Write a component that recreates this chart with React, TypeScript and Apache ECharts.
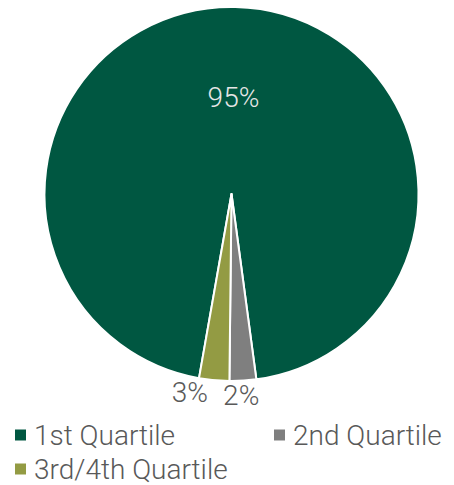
import React, { useEffect, useRef } from "react";
import * as echarts from "echarts";

const categories = ["1st Quartile", "2nd Quartile", "3rd/4th Quartile"];
const values = [95.1, 2.3, 2.6];
const colors = ["#005741", "#7F7F7F", "#939B43"];

export default function App() {
  const ref = useRef<HTMLDivElement>(null);
  useEffect(() => {
    const chart = echarts.init(ref.current!, null, { renderer: "svg" });
    const font = "Roboto, sans-serif";
    const legendBase = {
      itemWidth: 13,
      itemHeight: 13,
      itemGap: 8,
      padding: 0,
      icon: "rect",
      textStyle: {
        fontFamily: font,
        fontSize: 28,
        fontWeight: 300,
        color: "#595959",
        padding: [0, 0, 0, 2],
      },
    };
    chart.setOption({
      animation: false,
      color: colors,
      legend: [
        { ...legendBase, data: [categories[0]], left: 13, top: 421 },
        { ...legendBase, data: [categories[1]], left: 272, top: 421 },
        { ...legendBase, data: [categories[2]], left: 13, top: 455 },
      ],
      series: [
        {
          type: "pie",
          center: [231.5, 194],
          radius: [0, 187],
          startAngle: -100,
          clockwise: true,
          itemStyle: { borderColor: "#ffffff", borderWidth: 2 },
          label: {
            position: "outside",
            fontFamily: font,
            fontSize: 28,
            fontWeight: 300,
            color: "#595959",
            formatter: (p: any) => Math.round(p.value) + "%",
          },
          labelLine: { show: false, length: 3, length2: 0 },
          labelLayout: (p: any) => {
            if (p.dataIndex === 1) return { dx: -25, dy: 12 };
            if (p.dataIndex === 2) return { dx: -1, dy: 9 };
            return {};
          },
          data: categories.map((name, i) => ({
            name,
            value: values[i],
            label:
              i === 0
                ? { position: "inside", color: "#E6E6E6" }
                : undefined,
          })),
        },
      ],
    });
    return () => chart.dispose();
  }, []);
  return (
    <div
      ref={ref}
      style={{ position: "absolute", left: 0, top: 0, width: 454, height: 485 }}
    />
  );
}
